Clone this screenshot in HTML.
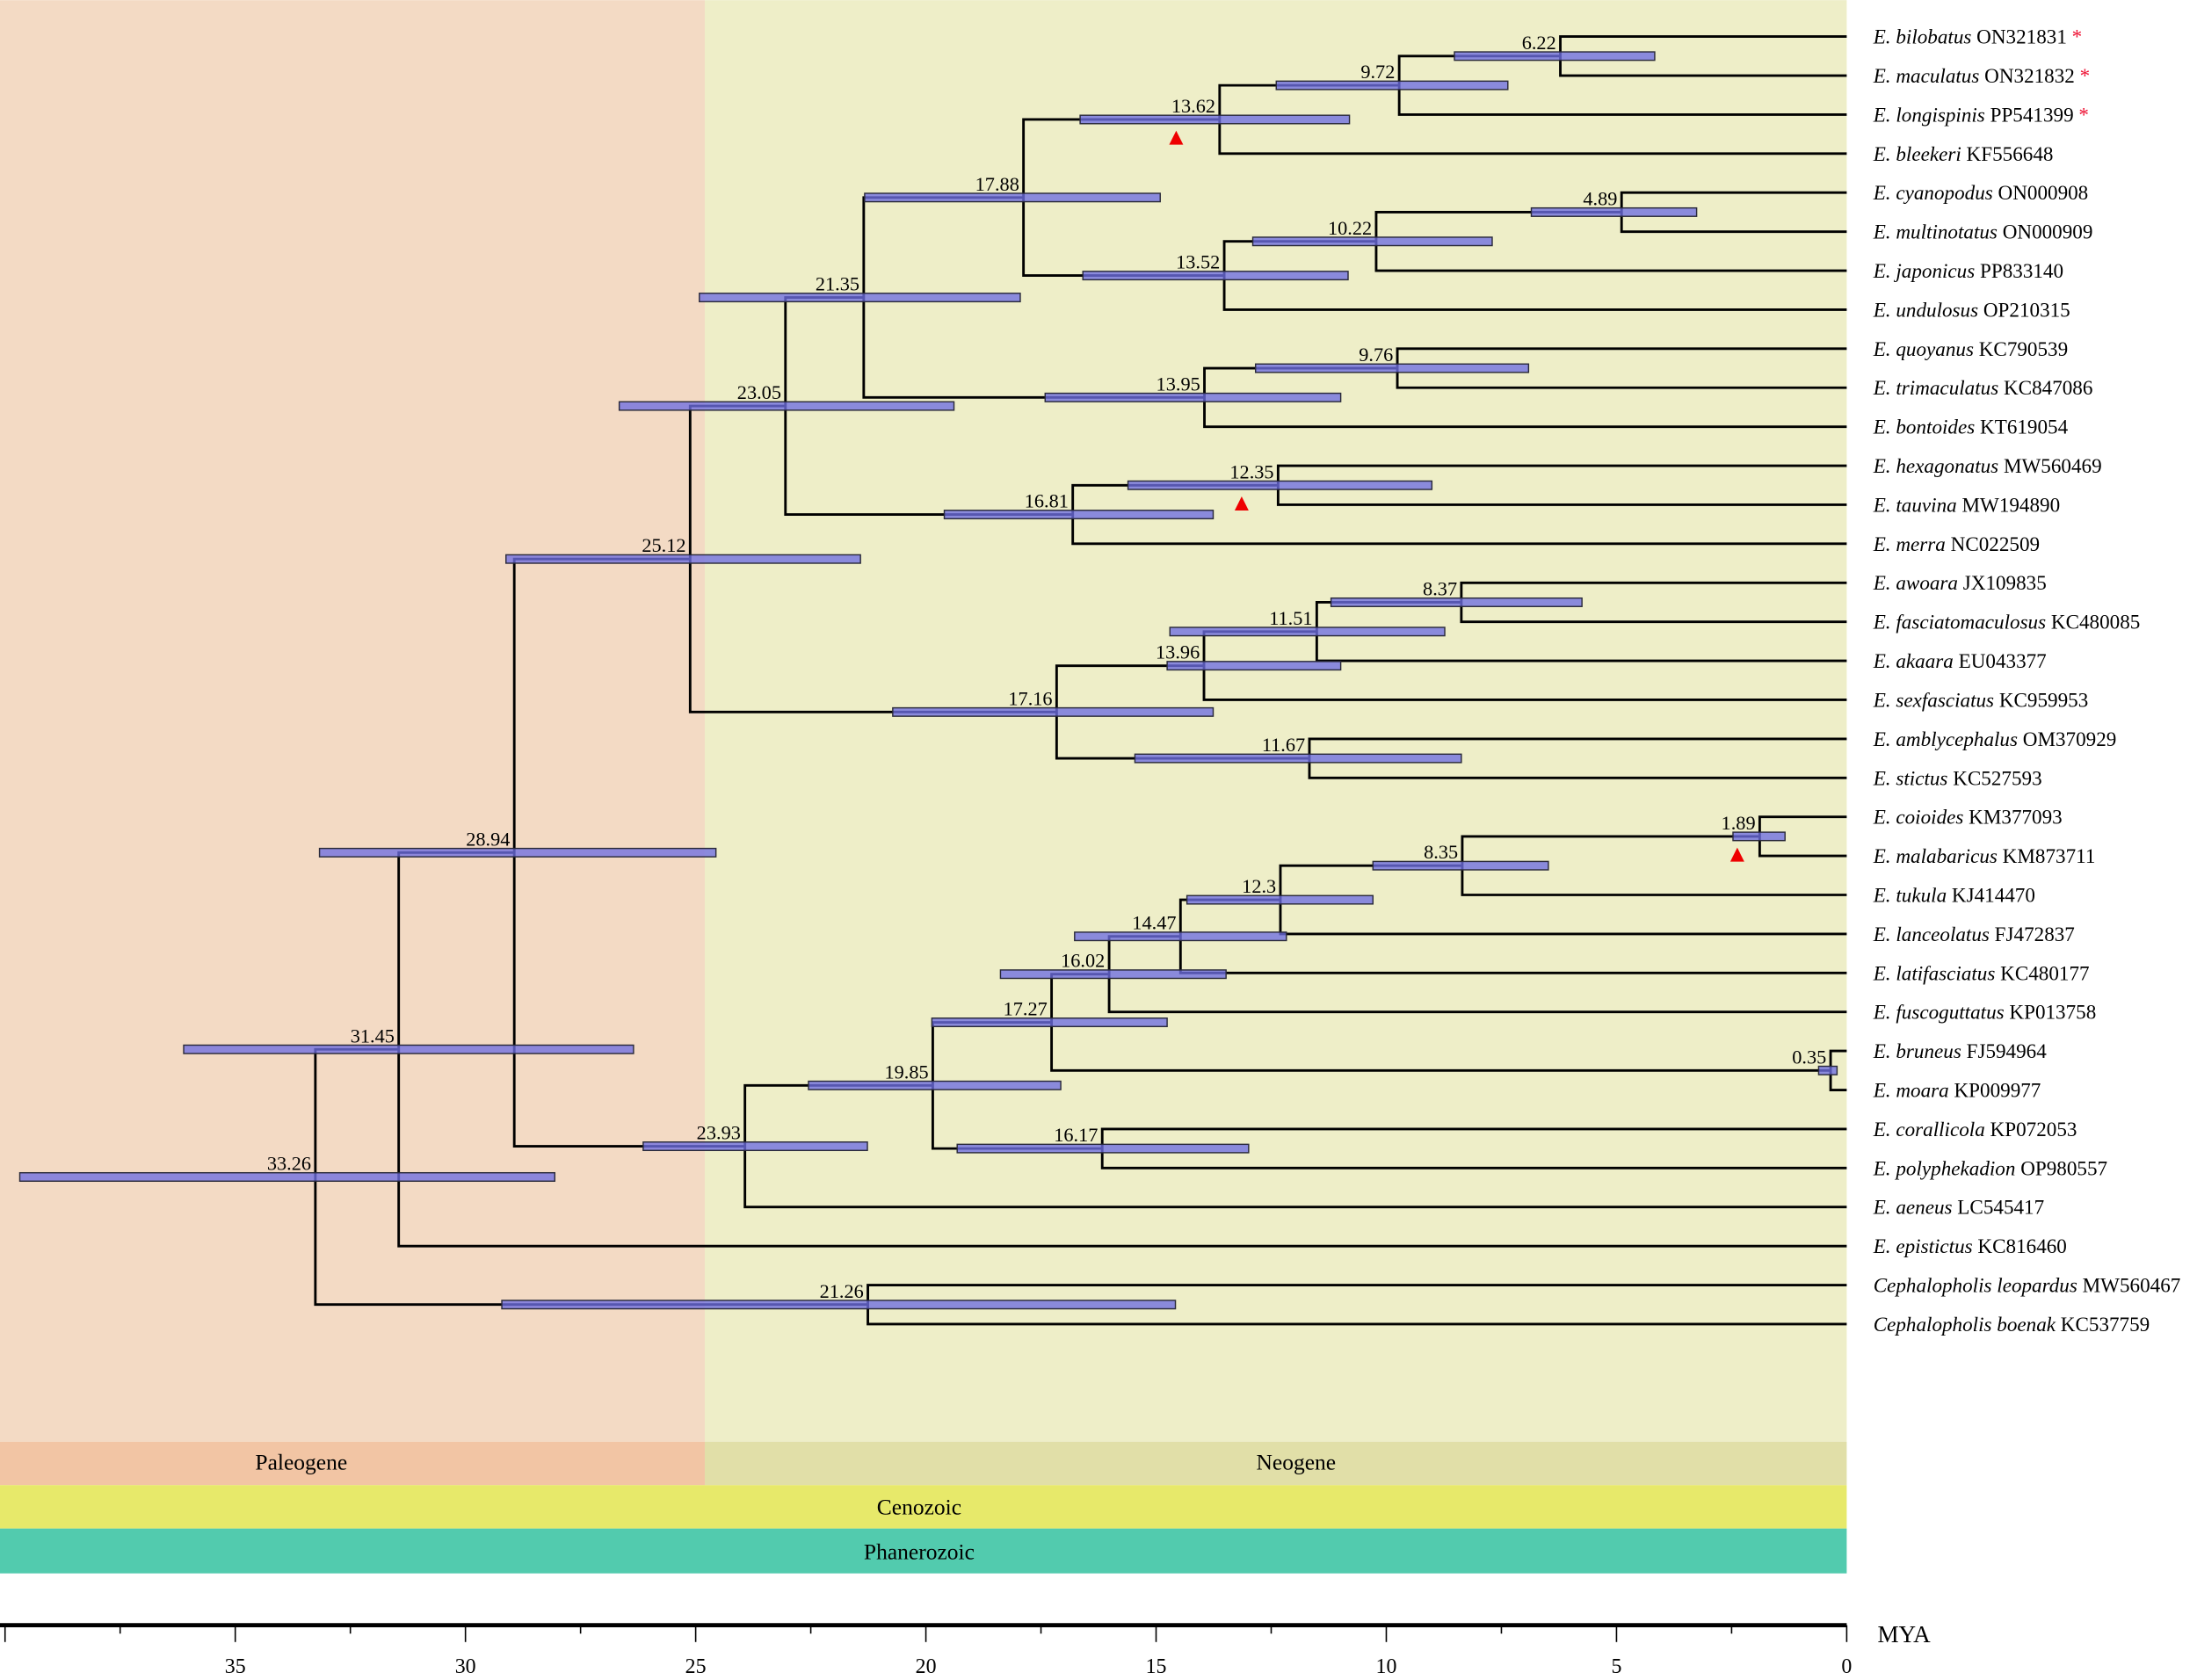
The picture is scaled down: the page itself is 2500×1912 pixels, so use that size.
<!DOCTYPE html>
<html><head><meta charset="utf-8"><style>
html,body{margin:0;padding:0;background:#fff;}
svg{display:block;}
text{font-family:"Liberation Serif",serif;}
</style></head><body>
<svg id="chart" width="2500" height="1912" viewBox="0 0 1568 1199" xmlns="http://www.w3.org/2000/svg">
<rect x="0" y="0" width="503" height="1029" fill="#f3dac4"/>
<rect x="503" y="0" width="815" height="1029" fill="#eeeec8"/>
<rect x="0" y="1029" width="503" height="31" fill="#f2c5a4"/>
<rect x="503" y="1029" width="815" height="31" fill="#e1dfa8"/>
<rect x="0" y="1060" width="1318" height="31" fill="#e7e96a"/>
<rect x="0" y="1091" width="1318" height="32" fill="#52cbae"/>
<text x="215" y="1049" font-size="16" text-anchor="middle">Paleogene</text>
<text x="925" y="1049" font-size="16" text-anchor="middle">Neogene</text>
<text x="656" y="1081" font-size="16" text-anchor="middle">Cenozoic</text>
<text x="656" y="1113" font-size="16" text-anchor="middle">Phanerozoic</text>
<g id="tree"></g>
<g id="axis"></g>
</svg>
<script>
const tipNames=["E. bilobatus","E. maculatus","E. longispinis","E. bleekeri","E. cyanopodus","E. multinotatus","E. japonicus","E. undulosus","E. quoyanus","E. trimaculatus","E. bontoides","E. hexagonatus","E. tauvina","E. merra","E. awoara","E. fasciatomaculosus","E. akaara","E. sexfasciatus","E. amblycephalus","E. stictus","E. coioides","E. malabaricus","E. tukula","E. lanceolatus","E. latifasciatus","E. fuscoguttatus","E. bruneus","E. moara","E. corallicola","E. polyphekadion","E. aeneus","E. epistictus","Cephalopholis leopardus","Cephalopholis boenak"];
const tipAccessions=["ON321831","ON321832","PP541399","KF556648","ON000908","ON000909","PP833140","OP210315","KC790539","KC847086","KT619054","MW560469","MW194890","NC022509","JX109835","KC480085","EU043377","KC959953","OM370929","KC527593","KM377093","KM873711","KJ414470","FJ472837","KC480177","KP013758","FJ594964","KP009977","KP072053","OP980557","LC545417","KC816460","MW560467","KC537759"];
const starredTips=[0,1,2];
const nodeAges=[33.26,31.45,21.26,28.94,25.12,23.93,23.05,17.16,19.85,21.35,16.81,13.96,11.67,17.27,16.17,17.88,13.95,12.35,11.51,16.02,0.35,13.62,13.52,9.76,8.37,14.47,9.72,10.22,12.3,6.22,4.89,8.35,1.89];
const nodeCIOld=[39.68,36.12,29.21,33.17,29.12,26.14,26.66,20.72,22.55,24.92,19.60,14.76,15.46,19.87,19.32,21.33,17.41,15.61,14.70,18.38,0.61,16.65,16.59,12.84,11.20,16.77,12.39,12.90,14.33,8.52,6.85,10.29,2.47];
const nodeCIYoung=[28.06,26.35,14.58,24.56,21.42,21.27,19.39,13.76,17.07,17.95,13.76,10.99,8.37,14.76,12.99,14.91,10.99,9.01,8.73,13.48,0.21,10.80,10.83,6.91,5.75,12.17,7.36,7.70,10.29,4.17,3.26,6.48,1.34];
const nodeChildren=[["n1","n2"],["n3","t31"],["t32","t33"],["n4","n5"],["n6","n7"],["n8","t30"],["n9","n10"],["n11","n12"],["n13","n14"],["n15","n16"],["n17","t13"],["n18","t17"],["t18","t19"],["n19","n20"],["t28","t29"],["n21","n22"],["n23","t10"],["t11","t12"],["n24","t16"],["n25","t25"],["t26","t27"],["n26","t3"],["n27","t7"],["t8","t9"],["t14","t15"],["n28","t24"],["n29","t2"],["n30","t6"],["n31","t23"],["t0","t1"],["t4","t5"],["n32","t22"],["t20","t21"]];
const markedNodes=[21,17,32];
const axisTicks=[0,5,10,15,20,25,30,35];

const NS="http://www.w3.org/2000/svg";
const X0=1318, PX=32.86;
function xScale(t){return X0-PX*t;}
function tipY(i){return 26+27.85*i;}
const tree=document.getElementById('tree');
function mk(tag,attrs,parent){const e=document.createElementNS(NS,tag);for(const k in attrs)e.setAttribute(k,attrs[k]);(parent||tree).appendChild(e);return e;}
const yCache={};
function posOf(ref){
  if(ref[0]==='t'){return {x:xScale(0),y:tipY(+ref.slice(1))};}
  const i=+ref.slice(1);
  if(yCache[i]===undefined){const ys=nodeChildren[i].map(c=>posOf(c).y);yCache[i]=(ys[0]+ys[1])/2;}
  return {x:xScale(nodeAges[i]),y:yCache[i]};
}
// branches
const gB=mk('g',{});


nodeAges.forEach((a,i)=>{
  const p=posOf('n'+i);
  const c0=posOf(nodeChildren[i][0]), c1=posOf(nodeChildren[i][1]);
  const path=mk('path',{d:`M${c0.x},${c0.y}H${p.x}V${c1.y}H${c1.x}`,fill:'none',stroke:'#000','stroke-width':1.8},gB);
  
  
});
// root stub none
// bars
const gC=mk('g',{});


nodeAges.forEach((a,i)=>{
  const p=posOf('n'+i);
  const x1=xScale(nodeCIOld[i]), x2=xScale(nodeCIYoung[i]);
  const r=mk('rect',{x:x1,y:p.y-3,width:x2-x1,height:6,fill:'rgba(110,110,225,0.78)',stroke:'#2a2a3a','stroke-width':0.9},gC);
  
  
  const t=mk('text',{x:p.x-3,y:p.y-5,'font-size':14,'text-anchor':'end'},gC);
  t.textContent=String(a);
  
  
});
const triOff=[-31,-26,-16];
markedNodes.forEach((n,k)=>{
  const p=posOf('n'+n);
  const cx=p.x+triOff[k], cy=p.y+13;
  const tr=mk('path',{d:`M${cx-5},${cy+5}L${cx},${cy-5}L${cx+5},${cy+5}Z`,fill:'#ee0000'});
  
  
});
// tip labels
tipNames.forEach((n,i)=>{
  const t=mk('text',{x:1337,y:tipY(i)+5,'font-size':14.5});
  
  
  const s1=mk('tspan',{'font-style':'italic'},t);s1.textContent=n;
  const s2=mk('tspan',{},t);s2.textContent=' '+tipAccessions[i];
  if(starredTips.includes(i)){const s3=mk('tspan',{fill:'#ee1133'},t);s3.textContent='  *';}
});
// axis
const ax=document.getElementById('axis');
const al=mk('line',{x1:0,y1:1160,x2:X0,y2:1160,stroke:'#000','stroke-width':3},ax);


for(let t=0;t<=40;t+=2.5){
  const x=xScale(t); if(x<0)continue;
  const major=(t%5===0);
  const l=mk('line',{x1:x,y1:1160,x2:x,y2:major?1172:1166,stroke:'#000','stroke-width':1},ax);
  
  
}
axisTicks.forEach(t=>{
  const tx=mk('text',{x:xScale(t),y:1194,'font-size':15,'text-anchor':'middle'},ax);
  tx.textContent=String(t);
  
  
});
const mya=mk('text',{x:1340,y:1172,'font-size':17},ax);
mya.textContent='MYA';


</script>
</body></html>
